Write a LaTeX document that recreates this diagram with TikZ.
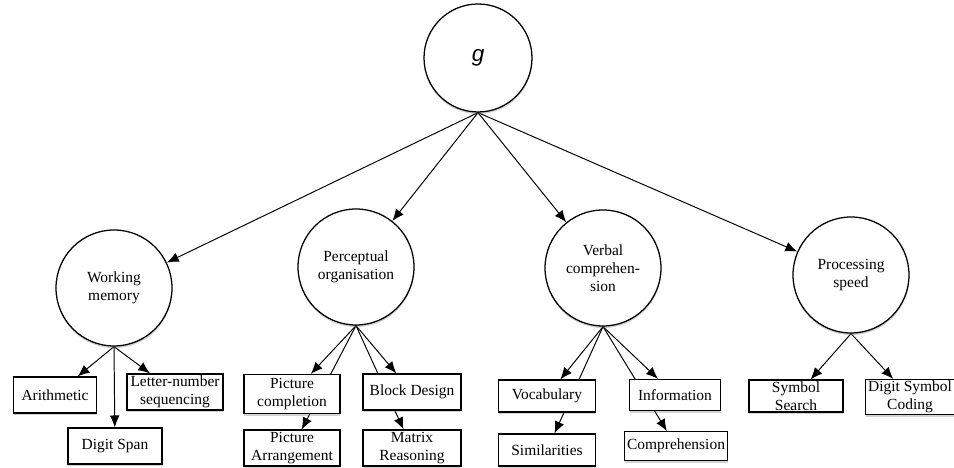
\documentclass[tikz,border=0pt]{standalone}
\usepackage{fontspec}
\setmainfont{Liberation Serif}
\newfontfamily\gfont{Liberation Sans}
\usetikzlibrary{arrows.meta,shadows,backgrounds}

\begin{document}
\begin{tikzpicture}[
  factor/.style={circle, draw, line width=0.9pt, fill=white, minimum size=2.9cm, inner sep=0pt,
    align=center, font=\fontsize{11}{12.8}\selectfont,
    drop shadow={fill=gray, opacity=0.35, shadow xshift=0.2pt, shadow yshift=-1.5pt}},
  subtest/.style={rectangle, draw, line width=0.8pt, fill=white, minimum width=2.35cm, minimum height=0.9cm,
    inner xsep=2pt, inner ysep=1pt, align=center, font=\fontsize{11}{12.8}\selectfont,
    drop shadow={fill=gray, opacity=0.35, shadow xshift=0.2pt, shadow yshift=-1.5pt}},
  edge/.style={-{Latex[length=8.5pt,width=7pt]}, line width=0.7pt}
]
\useasboundingbox (0,0) rectangle (23.85,11.7);

% General factor
\node[factor, minimum size=2.7cm, font=\gfont\itshape\fontsize{16}{18}\selectfont] (g) at (11.95, 10.25) {g};

% Group factors
\node[factor] (WM) at (2.85, 4.5) {Working\\memory};
\node[factor] (PO) at (8.9, 5.025) {Perceptual\\organisation};
\node[factor] (VC) at (15.075, 5.0) {Verbal\\comprehen-\\sion};
\node[factor] (PS) at (21.275, 4.825) {Processing\\speed};

% Working memory subtests
\node[subtest, minimum width=2.075cm] (Ar) at (1.375, 1.825) {Arithmetic};
\node[subtest, minimum width=2.4cm] (LN) at (4.375, 1.9) {Letter-number\\sequencing};
\node[subtest] (DS) at (2.875, 0.55) {Digit Span};

% Perceptual organisation subtests
\node[subtest, minimum width=2.4cm, minimum height=0.975cm] (PC) at (7.3, 1.85) {Picture\\completion};
\node[subtest, minimum width=2.45cm] (BD) at (10.3, 1.9) {Block Design};
\node[subtest, minimum width=2.4cm] (PA) at (7.3, 0.5) {Picture\\Arrangement};
\node[subtest, minimum width=2.45cm] (MR) at (10.3, 0.5) {Matrix\\Reasoning};

% Verbal comprehension subtests
\node[subtest, minimum width=2.425cm, minimum height=0.8cm] (Vo) at (13.675, 1.8) {Vocabulary};
\node[subtest, minimum width=2.275cm, minimum height=0.78cm] (In) at (16.875, 1.825) {Information};
\node[subtest, minimum width=2.425cm, minimum height=0.8cm] (Si) at (13.675, 0.45) {Similarities};
\node[subtest, minimum width=2.45cm, minimum height=0.72cm] (Co) at (16.9, 0.55) {Comprehension};

% Processing speed subtests
\node[subtest, minimum height=0.8cm] (SS) at (19.9, 1.8) {Symbol\\Search};
\node[subtest, minimum width=2.15cm, minimum height=0.85cm] (DC) at (22.75, 1.775) {Digit Symbol\\Coding};

% Loadings (behind the boxes)
\begin{pgfonlayer}{background}
\foreach \f in {WM, PO, VC, PS}
  \draw[edge] (g.south) -- (\f);

\foreach \t in {Ar, DS, LN}
  \draw[edge] (WM.south) -- (\t);
\foreach \t in {PC, PA, BD, MR}
  \draw[edge] (PO.south) -- (\t);
\foreach \t in {Vo, Si, In, Co}
  \draw[edge] (VC.south) -- (\t);
\foreach \t in {SS, DC}
  \draw[edge] (PS.south) -- (\t);
\end{pgfonlayer}

\end{tikzpicture}
\end{document}
